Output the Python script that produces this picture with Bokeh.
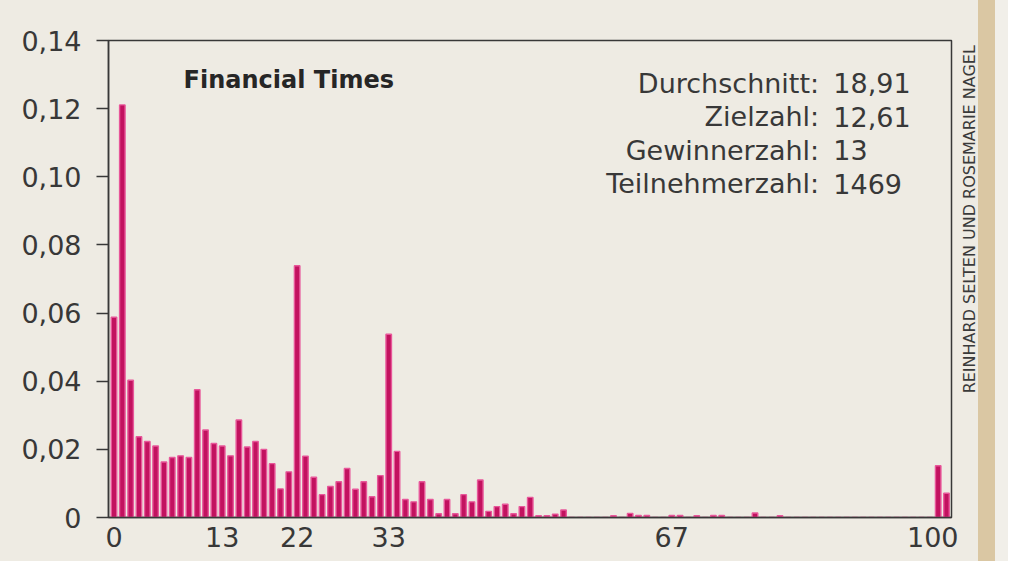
from bokeh.plotting import figure
from bokeh.models import (ColumnDataSource, FixedTicker, CustomJSTickFormatter,
                          Label, Range1d, Spacer)
from bokeh.layouts import row
from bokeh.core.properties import value
from bokeh.embed import file_html
from bokeh.resources import INLINE
import math

# ---------------- data ----------------
guesses = list(range(0, 101))
share = [
    0.0588, 0.1211, 0.0403, 0.0237, 0.0223, 0.0210, 0.0163, 0.0176, 0.0181, 0.0176,  # 0-9
    0.0375, 0.0257, 0.0217, 0.0210, 0.0181, 0.0286, 0.0207, 0.0223, 0.0200, 0.0158,  # 10-19
    0.0084, 0.0134, 0.0739, 0.0180, 0.0118, 0.0067, 0.0091, 0.0105, 0.0144, 0.0083,  # 20-29
    0.0105, 0.0061, 0.0123, 0.0538, 0.0194, 0.0053, 0.0046, 0.0105, 0.0053, 0.0011,  # 30-39
    0.0053, 0.0011, 0.0067, 0.0046, 0.0110, 0.0018, 0.0032, 0.0039, 0.0011, 0.0032,  # 40-49
    0.0059, 0.0005, 0.0005, 0.0010, 0.0022, 0.0000, 0.0000, 0.0000, 0.0000, 0.0000,  # 50-59
    0.0005, 0.0000, 0.0012, 0.0006, 0.0006, 0.0000, 0.0000, 0.0006, 0.0006, 0.0000,  # 60-69
    0.0005, 0.0000, 0.0006, 0.0006, 0.0000, 0.0000, 0.0000, 0.0013, 0.0000, 0.0000,  # 70-79
    0.0005, 0.0000, 0.0000, 0.0000, 0.0000, 0.0000, 0.0000, 0.0000, 0.0000, 0.0000,  # 80-89
    0.0000, 0.0000, 0.0000, 0.0000, 0.0000, 0.0000, 0.0000, 0.0000, 0.0000, 0.0152,  # 90-99
    0.0071,                                                                          # 100
]
x_ticks = [0, 13, 22, 33, 67, 100]
y_ticks = [0, 0.02, 0.04, 0.06, 0.08, 0.10, 0.12, 0.14]
title_text = "Financial Times"
stat_labels = ["Durchschnitt:", "Zielzahl:", "Gewinnerzahl:", "Teilnehmerzahl:"]
stat_values = ["18,91", "12,61", "13", "1469"]
credit = "REINHARD SELTEN UND ROSEMARIE NAGEL"

# ---------------- style ----------------
BG = "#eeebe3"
INK = "#383838"
BAR = "#c2125f"
BAR_EDGE = "#e8579a"
FONT = "DejaVu Sans"
H = 561

p = figure(width=958, height=H, output_backend="svg", toolbar_location=None,
           x_range=Range1d(-0.66, 100.6), y_range=Range1d(0, 0.14),
           min_border_left=108, min_border_right=7,
           min_border_top=40, min_border_bottom=H - 517)
p.background_fill_color = BG
p.border_fill_color = BG
p.outline_line_color = INK
p.outline_line_width = 1.5
p.grid.visible = False

src = ColumnDataSource(dict(x=guesses, top=share))
p.vbar(x="x", top="top", width=0.66, bottom=0, source=src,
       fill_color=BAR, line_color=BAR_EDGE, line_width=1.4)

# axes
for ax in (p.xaxis[0], p.yaxis[0]):
    ax.axis_line_color = INK
    ax.axis_line_width = 1.5
    ax.major_tick_line_color = INK
    ax.major_tick_line_width = 1.5
    ax.minor_tick_line_color = None
    ax.major_label_text_font = FONT
    ax.major_label_text_font_size = "27px"
    ax.major_label_text_color = INK

p.xaxis.ticker = FixedTicker(ticks=x_ticks)
p.xaxis.major_tick_out = 0
p.xaxis.major_tick_in = 0
p.xaxis.major_label_standoff = 9

p.yaxis.ticker = FixedTicker(ticks=y_ticks)
p.yaxis.major_tick_out = 12
p.yaxis.major_tick_in = 0
p.yaxis.major_label_standoff = 15
p.yaxis.formatter = CustomJSTickFormatter(
    code="return tick == 0 ? '0' : tick.toFixed(2).replace('.', ',');")

# title inside plot
p.add_layout(Label(x=8.36, y=0.1284, text=title_text, text_font=FONT,
                   text_font_style="bold", text_font_size="24px",
                   text_color="#262626", text_baseline="alphabetic"))

# statistics block: labels right aligned on the colon, values left aligned
row_y = [0.12750 - i * 0.00985 for i in range(len(stat_labels))]
stats = ColumnDataSource(dict(y=row_y, lab=stat_labels, val=stat_values,
                              xl=[84.7] * len(stat_labels),
                              xv=[86.4] * len(stat_labels)))
p.text(x="xl", y="y", text="lab", source=stats, text_align="right",
       text_baseline="alphabetic", text_font=value(FONT),
       text_font_size="27px", text_color=INK)
p.text(x="xv", y="y", text="val", source=stats, text_align="left",
       text_baseline="alphabetic", text_font=value(FONT),
       text_font_size="27px", text_color=INK)

# narrow side panel carrying the vertical credit line
side = figure(width=20, height=H, output_backend="svg", toolbar_location=None,
              title=None, x_range=Range1d(0, 20), y_range=Range1d(0, H),
              min_border=0)
side.axis.visible = False
side.grid.visible = False
side.outline_line_color = None
side.background_fill_color = BG
side.border_fill_color = BG
side.add_layout(Label(x=10.5, y=H - 415, text=credit, angle=math.pi / 2,
                      text_font=FONT, text_font_size="16px", text_color="#3a3a3a",
                      text_align="left", text_baseline="middle"))

stripe = Spacer(width=17, height=H, styles={"background-color": "#dac7a3"})
rest = Spacer(width=13, height=H, styles={"background-color": "#f1efe9"})
layout = row(p, side, stripe, rest, spacing=0, styles={"background-color": BG})

open("out.html", "w").write(file_html(layout, INLINE))
